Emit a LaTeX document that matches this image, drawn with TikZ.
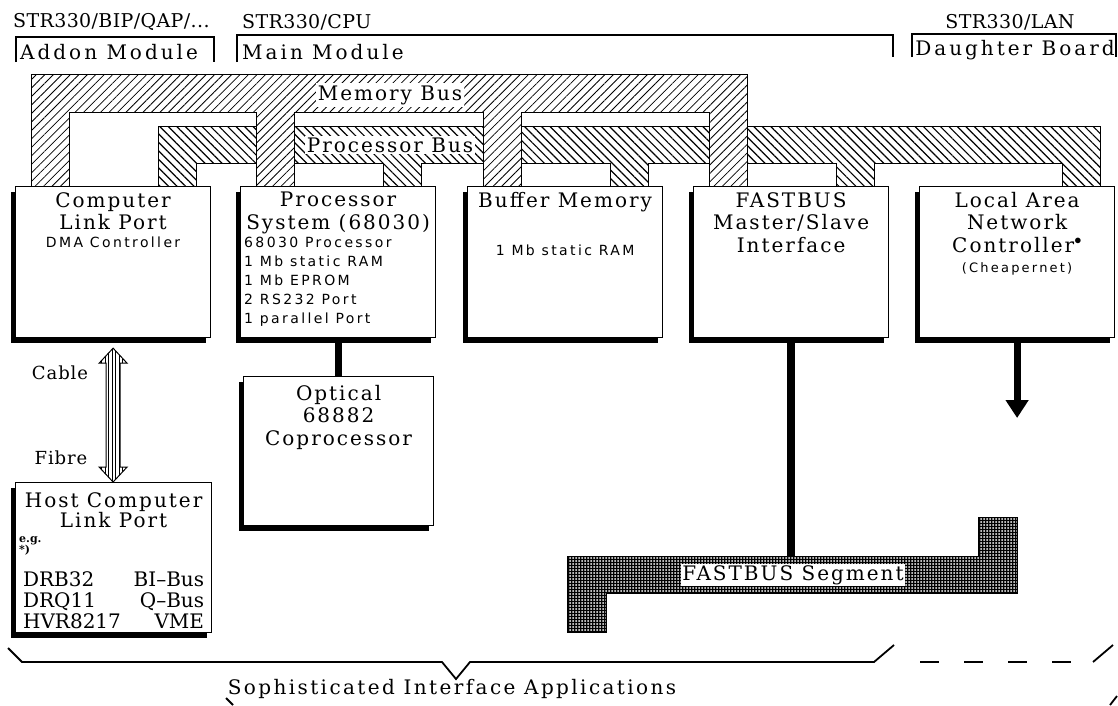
\documentclass[tikz,border=0pt]{standalone}
\usepackage{fontspec}
\setsansfont{DejaVu Sans}
\newfontfamily\plotserif[Ligatures=TeX]{DejaVu Serif}
\usetikzlibrary{calc,shadows,patterns.meta,arrows.meta}

\newcommand\titlefont{\plotserif\fontsize{20}{22.5}\selectfont\addfontfeature{LetterSpace=10}}
\newcommand\headfont{\plotserif\fontsize{20}{22}\selectfont\addfontfeature{LetterSpace=15}}
\newcommand\partfont{\plotserif\fontsize{19}{22}\selectfont\addfontfeature{LetterSpace=2}}
\newcommand\listfont{\sffamily\fontsize{14}{19}\selectfont\addfontfeature{LetterSpace=17}}
\newcommand\hostfont{\plotserif\fontsize{20}{21}\selectfont}
\newcommand\cablefont{\plotserif\fontsize{18}{20}\selectfont\addfontfeature{LetterSpace=5}}

\begin{document}
\begin{tikzpicture}[x=1pt, y=-1pt, every node/.style={inner sep=0pt},
  modbox/.style={draw, line width=1.2pt, fill=white, anchor=north west, minimum width=195pt, minimum height=151pt,
    drop shadow={shadow xshift=-5pt, shadow yshift=-5pt, fill=black, opacity=1}},
  boxtitle/.style={anchor=north, align=center, font=\titlefont},
  boxlist/.style={anchor=north, align=center, font=\listfont},
  membus/.style={draw, line width=1pt, preaction={fill=white}, pattern={Lines[angle=45, distance=6pt, line width=0.8pt]}},
  procbus/.style={draw, line width=1pt, preaction={fill=white}, pattern={Lines[angle=-45, distance=6pt, line width=1.2pt]}},
  fbseg/.style={draw, line width=0.8pt, preaction={fill=black}, pattern={Dots[distance=3pt, radius=1pt]}, pattern color=white},
  cablearrow/.style={draw, line width=1pt, pattern={Lines[angle=90, distance=3.5pt, line width=0.8pt]}},
  buslabel/.style={fill=white, inner sep=2pt, font=\titlefont},
  link/.style={line width=7pt},
  bracket/.style={line width=1.8pt}]
\useasboundingbox (0,0) rectangle (1118,705);

% Part numbers and module brackets
\node[font=\partfont, anchor=west] (bipname) at (13,22) {STR330/BIP/QAP/...};
\node[font=\partfont, anchor=west] (cpuname) at (242,22) {STR330/CPU};
\node[font=\partfont] (lanname) at (1010,22) {STR330/LAN};
\draw[bracket] (16,62) -- (16,37) -- (214,37) -- (214,62);
\draw[bracket] (237,62) -- (237,35) -- (893,35) -- (893,57);
\draw[bracket] (912,57) -- (912,34) -- (1116,34) -- (1116,57);
\node[font=\headfont, anchor=west] (addon) at (20,52) {Addon Module};
\node[font=\headfont, anchor=west] (mainmod) at (242,52) {Main Module};
\node[font=\headfont] (daughter) at (1015,50) {Daughter Board};

% Processor Bus
\draw[procbus] (158,186) -- (158,126) -- (1100,126) -- (1100,186) -- (1062,186) -- (1062,163) -- (874,163) -- (874,186)
  -- (836,186) -- (836,163) -- (648,163) -- (648,186) -- (610,186) -- (610,163) -- (421,163) -- (421,186)
  -- (383,186) -- (383,163) -- (196,163) -- (196,186) -- cycle;
\node[buslabel] (procbus) at (390,145) {Processor Bus};

% Memory Bus
\draw[membus] (31,186) -- (31,74) -- (747,74) -- (747,186) -- (709,186) -- (709,112) -- (521,112) -- (521,186)
  -- (483,186) -- (483,112) -- (294,112) -- (294,186) -- (256,186) -- (256,112) -- (69,112) -- (69,186) -- cycle;
\node[buslabel] (membus) at (390,95) {Memory Bus};

% Modules
\node[modbox] (clp) at (15,186) {};
\node[modbox] (proc) at (240,186) {};
\node[modbox] (buf) at (467,186) {};
\node[modbox] (fb) at (693,186) {};
\node[modbox] (lan) at (919,186) {};
\node[modbox, minimum width=190pt, minimum height=149pt] (opt) at (243,376) {};
\node[modbox, minimum width=196pt, minimum height=150pt] (host) at (15,482) {};

\node[boxtitle] (clptitle) at ($(clp.north)+(0,6)$) {Computer\\Link Port};
\node[boxlist] (clplist) at ($(clp.north)+(0,51)$) {DMA Controller};
\node[boxtitle] (proctitle) at ($(proc.north)+(0,6)$) {Processor\\System (68030)};
\node[boxlist, anchor=north west, align=left] (proclist) at ($(proc.north west)+(4,51)$)
  {68030 Processor\\1 Mb static RAM\\1 Mb EPROM\\2 RS232 Port\\1 parallel Port};
\node[boxtitle] (buftitle) at ($(buf.north)+(0,6)$) {Buffer Memory};
\node[boxlist] (buflist) at ($(buf.north)+(0,59)$) {1 Mb static RAM};
\node[boxtitle] (fbtitle) at ($(fb.north)+(0,6)$) {FASTBUS\\Master/Slave\\Interface};
\node[boxtitle] (lantitle) at ($(lan.north)+(0,6)$) {Local Area\\Network\\Controller$^\bullet$};
\node[boxlist, font=\listfont\fontsize{13}{16}\selectfont] (lanlist) at ($(lan.north)+(0,76)$) {(Cheapernet)};
\node[boxtitle] (opttitle) at ($(opt.north)+(0,9)$) {Optical\\68882\\Coprocessor};
\node[boxtitle] (hosttitle) at ($(host.north)+(0,10)$) {Host Computer\\[-2.5pt]Link Port};
\node[anchor=north west, align=left, font=\plotserif\bfseries\fontsize{11}{9}\selectfont] (eg) at ($(host.north west)+(4,54)$) {e.g.\\*)};
\node[anchor=north, align=left, text width=181pt, font=\hostfont] (hostlist) at ($(host.north)+(0,89)$)
  {DRB32\hfill BI--Bus\\DRQ11\hfill Q--Bus\\HVR8217\hfill VME};

% Cable / Fibre link
\draw[cablearrow] ($(clp.south)+(0,10)$) -- ++(14,15) -- ++(-7,0) -- ($(clp.south |- host.north)+(7,-15)$) -- ++(7,0)
  -- (clp.south |- host.north) -- ++(-14,-15) -- ++(7,0) -- ($(clp.south)+(-7,25)$) -- ++(-7,0) -- cycle;
\node[font=\cablefont] (cable) at (60,373) {Cable};
\node[font=\cablefont] (fibre) at (61,458) {Fibre};

% FASTBUS Segment
\draw[fbseg] (567,632) -- (567,556) -- (978,556) -- (978,517) -- (1017,517) -- (1017,593) -- (606,593) -- (606,632) -- cycle;
\node[buslabel, inner sep=1.5pt] (seglabel) at (793,575) {FASTBUS Segment};
\coordinate (segtop) at (790.5,556);
\coordinate (lanend) at (1016.5,418);

\draw[link] (proc.south) -- (proc.south |- opt.north);
\draw[link, line width=8pt] (fb.south) -- (fb.south |- segtop);
\draw[link, -{Triangle[length=18pt, width=22pt]}] (lan.south) -- (lan.south |- lanend);

% Applications brace
\draw[bracket] (8,648) -- (22,662) -- (442,662) -- (456,679) -- (470,662) -- (874,662) -- (894,645);
\draw[bracket, dash pattern=on 19pt off 25pt] (920,662) -- (1075,662);
\draw[bracket] (1093,662) -- (1113,645);
\node[font=\headfont\addfontfeature{LetterSpace=12}] (apps) at (452,689) {Sophisticated Interface Applications};
\draw[bracket] (226,698) -- (233,705);
\draw[bracket] (1110,705) -- (1117,696);
\end{tikzpicture}
\end{document}
